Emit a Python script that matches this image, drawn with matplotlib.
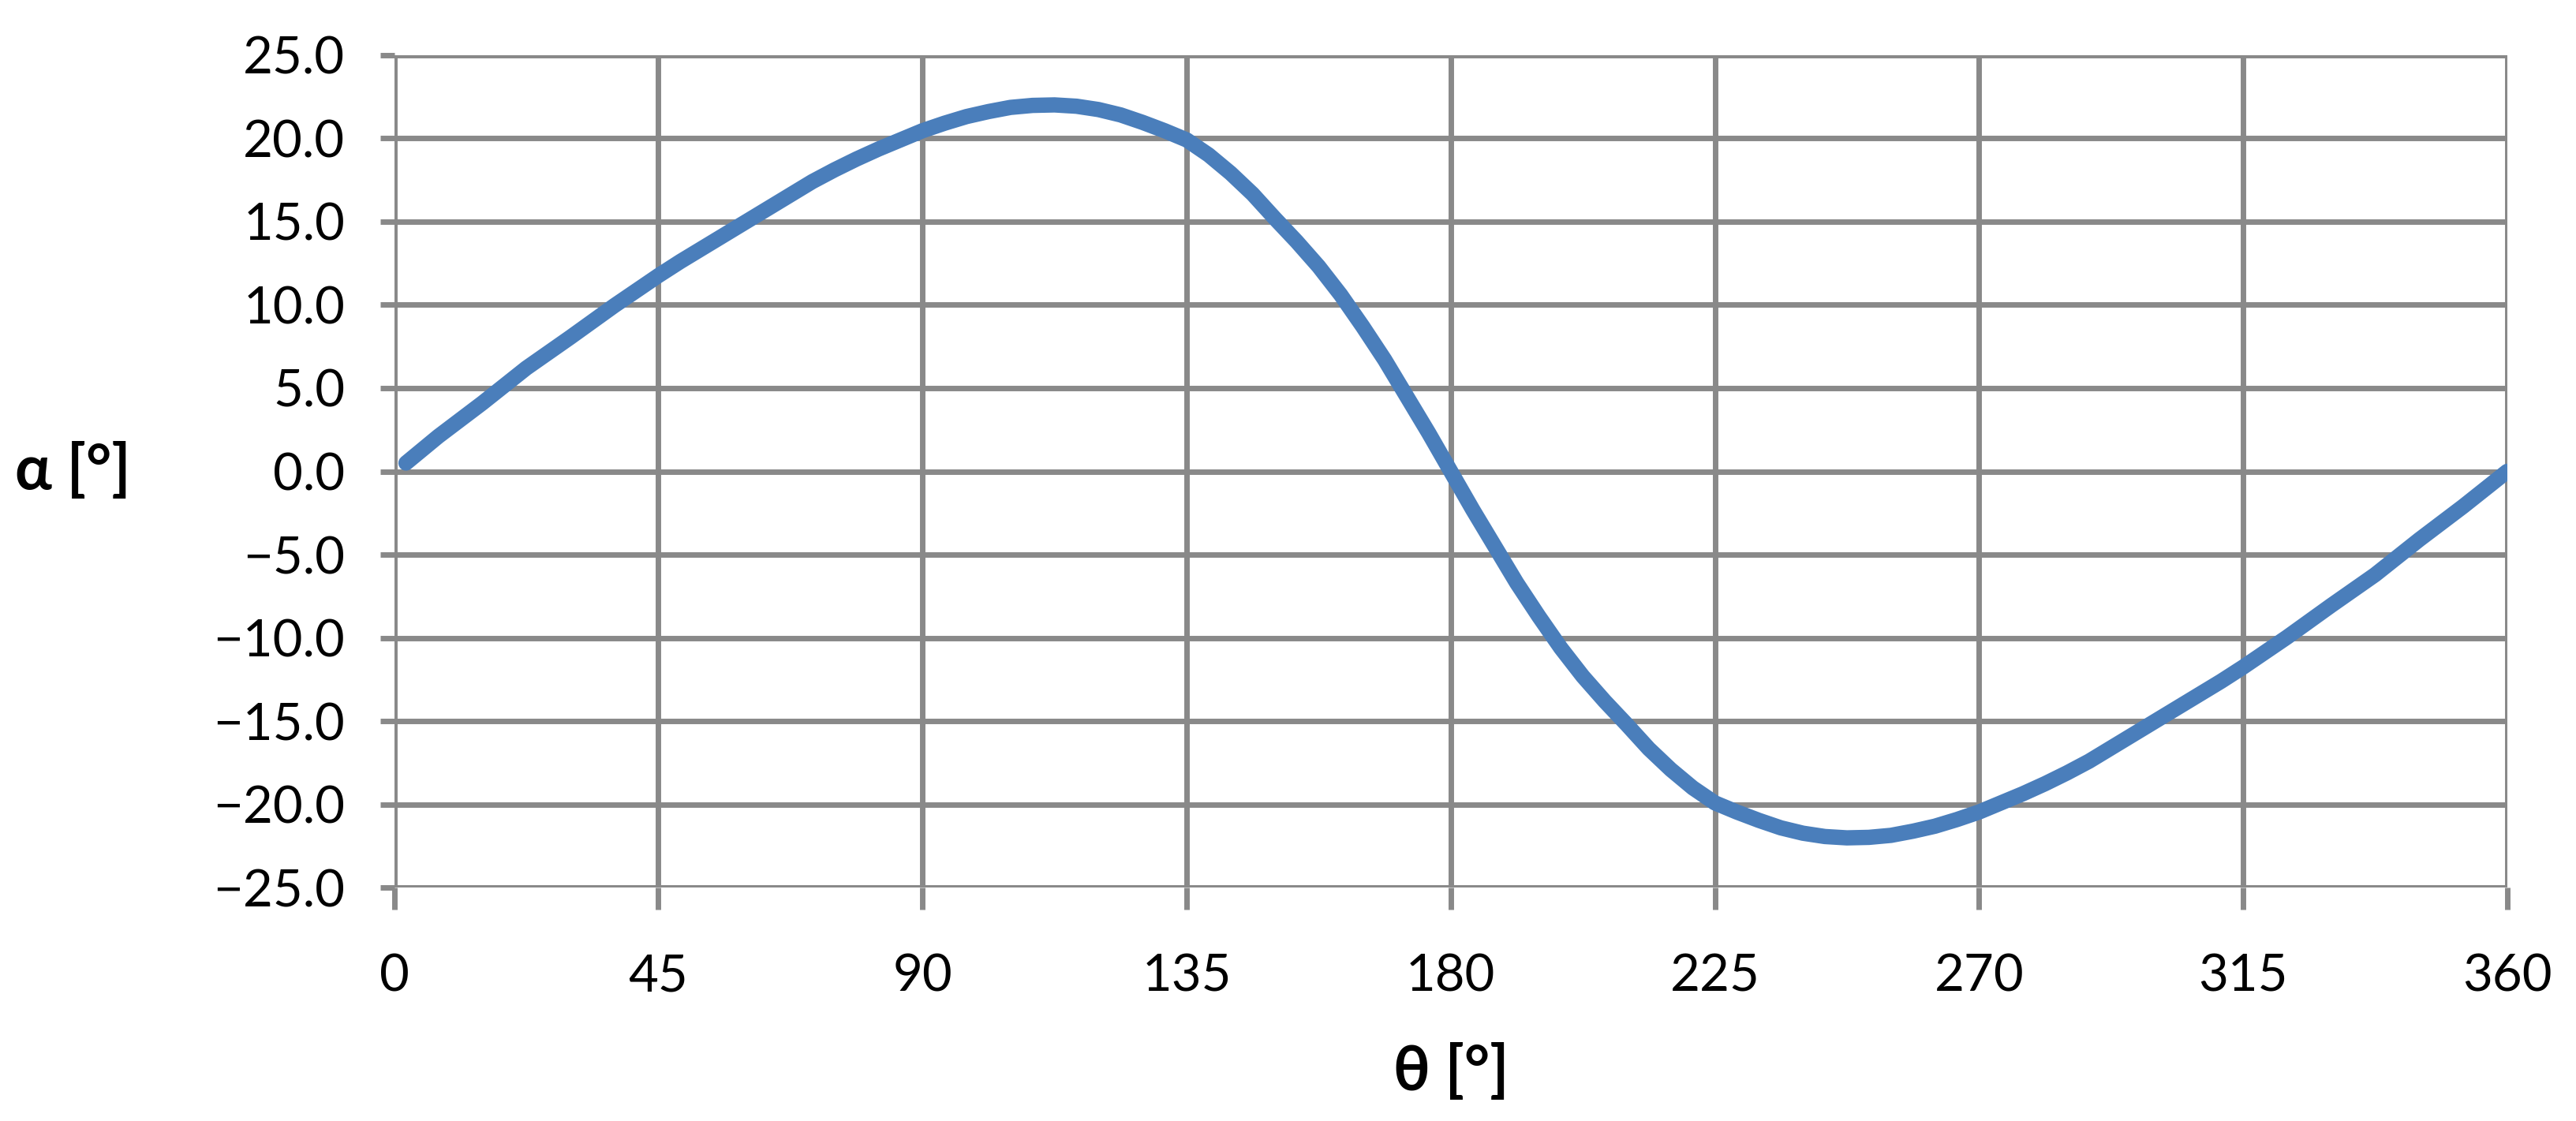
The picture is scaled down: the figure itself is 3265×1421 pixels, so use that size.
import matplotlib
matplotlib.use("Agg")
import matplotlib.pyplot as plt

# crank angle theta [deg] and output angle alpha [deg]
theta = [2, 7.5, 15, 22.5, 30, 37.5, 45, 48.75, 52.5, 56.25, 60, 63.75, 67.5,
         71.25, 75, 78.75, 82.5, 86.25, 90, 93.75, 97.5, 101.25, 105, 108.75,
         112.5, 116.25, 120, 123.75, 127.5, 131.25, 135, 138.75, 142.5,
         146.25, 150, 153.75, 157.5, 161.25, 165, 168.75, 172.5, 176.25, 180,
         183.75, 187.5, 191.25, 195, 198.75, 202.5, 206.25, 210, 213.75,
         217.5, 221.25, 225, 228.75, 232.5, 236.25, 240, 243.75, 247.5,
         251.25, 255, 258.75, 262.5, 266.25, 270, 273.75, 277.5, 281.25, 285,
         288.75, 292.5, 296.25, 300, 303.75, 307.5, 311.25, 315, 322.5, 330,
         337.5, 345, 352.5, 360]
alpha = [0.5, 2.1, 4.1, 6.2, 8.05, 9.95, 11.75, 12.6, 13.4, 14.2, 15.0, 15.8,
         16.6, 17.4, 18.1, 18.75, 19.35, 19.9, 20.45, 20.9, 21.3, 21.6, 21.85,
         21.97, 22.0, 21.92, 21.72, 21.4, 20.95, 20.45, 19.9, 19.0, 17.9,
         16.65, 15.2, 13.8, 12.3, 10.6, 8.7, 6.7, 4.5, 2.3, 0.0,
         -2.3, -4.5, -6.7, -8.7, -10.6, -12.3, -13.8, -15.2, -16.65, -17.9,
         -19.0, -19.9, -20.45, -20.95, -21.4, -21.72, -21.92, -22.0, -21.97,
         -21.85, -21.6, -21.3, -20.9, -20.45, -19.9, -19.35, -18.75, -18.1,
         -17.4, -16.6, -15.8, -15.0, -14.2, -13.4, -12.6, -11.75, -9.95,
         -8.05, -6.2, -4.1, -2.1, 0.0]

x_ticks = [0, 45, 90, 135, 180, 225, 270, 315, 360]
y_ticks = [-25, -20, -15, -10, -5, 0, 5, 10, 15, 20, 25]

plt.rcParams["font.family"] = ["Lato", "DejaVu Sans"]
grid_col = "#898989"

fig = plt.figure(figsize=(32.66, 14.21), dpi=100)
ax = fig.add_axes([0.153, 0.208, 0.820, 0.743])

ax.plot(theta, alpha, color="#4a7ebb", lw=14, solid_capstyle="round",
        solid_joinstyle="round", zorder=3)

ax.set_xlim(0, 360)
ax.set_ylim(-25, 25)
ax.set_xticks(x_ticks)
ax.set_yticks(y_ticks)
ax.set_yticklabels([f"{v:.1f}".replace("-", "\u2212") for v in y_ticks])

ax.grid(True, color=grid_col, lw=5)
ax.set_axisbelow(True)
for s in ax.spines.values():
    s.set_visible(False)
ax.tick_params(axis="x", length=20, width=5, color=grid_col,
               labelsize=47, pad=40)
ax.tick_params(axis="y", length=13, width=5, color=grid_col,
               labelsize=47, pad=32)

ax.set_xlabel("θ [°]", fontsize=56, fontweight="bold", labelpad=40)
ax.set_ylabel("α [°]", fontsize=56, fontweight="bold", rotation=0)
ax.yaxis.set_label_coords(-0.152, 0.5)
ax.yaxis.label.set_verticalalignment("center")
ax.yaxis.label.set_horizontalalignment("center")

fig.savefig("out.png", dpi=100, facecolor="white")
